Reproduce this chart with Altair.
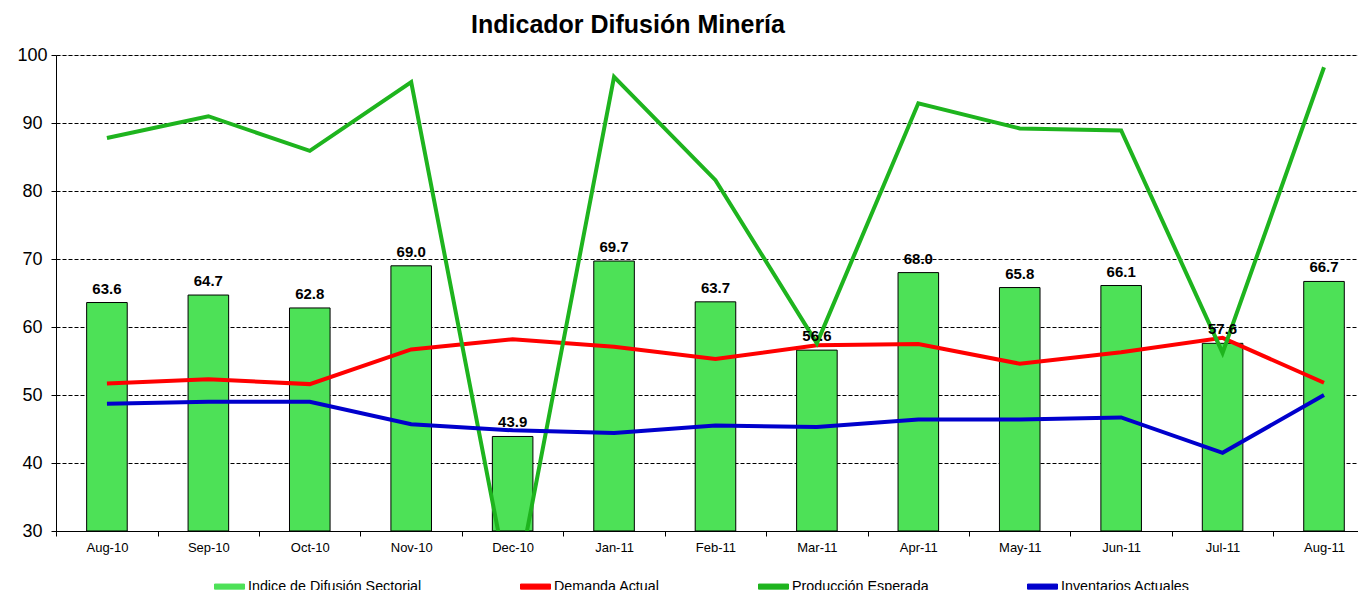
import altair as alt
import pandas as pd

months = ["Aug-10", "Sep-10", "Oct-10", "Nov-10", "Dec-10", "Jan-11", "Feb-11",
          "Mar-11", "Apr-11", "May-11", "Jun-11", "Jul-11", "Aug-11"]
indice = [63.6, 64.7, 62.8, 69.0, 43.9, 69.7, 63.7, 56.6, 68.0, 65.8, 66.1, 57.6, 66.7]
demanda = [51.7, 52.3, 51.6, 56.7, 58.2, 57.1, 55.3, 57.3, 57.5, 54.6, 56.3, 58.4, 51.8]
produccion = [87.8, 91.0, 85.9, 96.0, 19.0, 96.8, 81.6, 57.6, 92.9, 89.2, 88.9, 56.2, 98.2]
inventarios = [48.7, 49.0, 49.0, 45.7, 44.8, 44.4, 45.5, 45.3, 46.4, 46.4, 46.7, 41.5, 50.0]

series_names = ["Indice de Difusión Sectorial", "Demanda Actual",
                "Producción Esperada", "Inventarios Actuales"]
series_colors = ["#4DE157", "#FF0000", "#1EB41E", "#0000CC"]
y_ticks = [30, 40, 50, 60, 70, 80, 90, 100]

FONT = "Liberation Sans"

bars_df = pd.DataFrame({"mes": months, "valor": indice, "serie": series_names[0]})
lines_df = pd.concat([
    pd.DataFrame({"mes": months, "valor": vals, "serie": name, "orden": i})
    for i, (name, vals) in enumerate(zip(series_names[1:], [demanda, produccion, inventarios]))
])

fill_scale = alt.Scale(domain=series_names, range=series_colors)
stroke_scale = alt.Scale(domain=series_names, range=series_colors)

# step ~101.5 px, bar 40.6 px; half the gap between bars = 30.45 px
x_enc = alt.X(
    "mes:N", sort=months,
    scale=alt.Scale(paddingInner=0.6, paddingOuter=0.2187, align=0.691),
    axis=alt.Axis(title=None, labelAngle=0, labelFont=FONT, labelFontSize=13,
                  labelColor="black", bandPosition=0, tickOffset=-30.45,
                  labelOffset=30.45, tickSize=5,
                  tickColor="black", domainColor="black", labelPadding=5,
                  grid=False),
)
y_enc = alt.Y(
    "valor:Q",
    scale=alt.Scale(domain=[30, 100], nice=False, zero=False),
    axis=alt.Axis(title=None, values=y_ticks, labelAlign="center", labelPadding=19,
                  labelFont=FONT, labelFontSize=18, labelColor="black",
                  grid=True, gridColor="black", gridDash=[4, 2], gridOpacity=1,
                  tickColor="black", domainColor="black", tickSize=5),
)

legend = alt.Legend(
    title=None, orient="none", legendX=158, legendY=516, direction="horizontal",
    symbolType="M-1,-0.17H1V0.17H-1Z", symbolSize=900,
    symbolStrokeWidth=1,
    symbolFillColor=alt.ExprRef("scale('fill', datum.value)"),
    symbolStrokeColor=alt.ExprRef(
        "datum.value === 'Indice de Difusión Sectorial' ? 'black' : scale('fill', datum.value)"),
    symbolOpacity=1,
    labelFont=FONT, labelFontSize=14.3, labelColor="black", labelOffset=3,
    labelLimit=400, columnPadding=96, padding=0,
)

bars = alt.Chart(bars_df).mark_bar(stroke="black", strokeWidth=1, opacity=1).encode(
    x=x_enc,
    y=y_enc,
    y2=alt.datum(30),
    fill=alt.Fill("serie:N", scale=fill_scale, legend=legend),
)

labels = alt.Chart(bars_df).mark_text(
    dy=-9, baseline="alphabetic", fontWeight="bold", fontSize=15, font=FONT, color="black"
).encode(
    x=alt.X("mes:N", sort=months),
    y=alt.Y("valor:Q"),
    text=alt.Text("valor:Q", format=".1f"),
)

lines = alt.Chart(lines_df).mark_line(strokeWidth=4, clip=True).encode(
    x=alt.X("mes:N", sort=months),
    y=alt.Y("valor:Q"),
    stroke=alt.Stroke("serie:N", scale=stroke_scale, legend=None),
    order="orden:Q",
    detail="serie:N",
)

chart = alt.layer(bars, lines, labels).properties(
    width=1302,
    height=476,
    padding={"left": 8, "top": 5, "right": 0, "bottom": 0},
    title=alt.TitleParams(
        text="Indicador Difusión Minería", font=FONT, fontSize=25, fontWeight="bold",
        color="black", anchor="middle", frame="group", dx=-79, offset=8,
    ),
).configure_view(stroke=None).configure(background="white")

chart.save("out.html", embed_options={"renderer": "svg", "actions": False})
